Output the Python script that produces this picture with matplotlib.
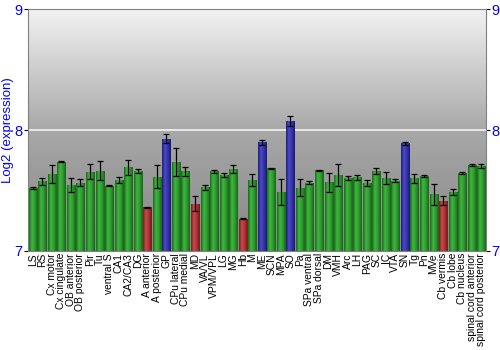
import numpy as np
import matplotlib
matplotlib.use('Agg')
import matplotlib.pyplot as plt
from matplotlib.colors import LinearSegmentedColormap

plt.rcParams['font.family'] = ['Liberation Sans', 'DejaVu Sans']

regions = ['LS', 'RS', 'Cx motor', 'Cx cingulate', 'OB anterior', 'OB posterior', 'Pir', 'Tu',
           'ventral S', 'CA1', 'CA2/CA3', 'DG', 'A anterior', 'A posterior', 'GP', 'CPu lateral',
           'CPu medial', 'MD', 'VA/VL', 'VPM/VPL', 'LG', 'MG', 'Hb', 'M', 'ME', 'SCN', 'MPA', 'SO',
           'Pa', 'SPa ventral', 'SPa dorsal', 'DM', 'VMH', 'Arc', 'LH', 'PAG', 'SC', 'IC', 'VTA',
           'SN', 'Tg', 'Pn', 'MVe', 'Cb vermis', 'Cb lobe', 'Cb nucleus', 'spinal cord anterior',
           'spinal cord posterior']
expr = [7.518, 7.576, 7.639, 7.736, 7.545, 7.565, 7.653, 7.664,
        7.540, 7.587, 7.694, 7.664, 7.361, 7.612, 7.926, 7.736,
        7.658, 7.391, 7.526, 7.658, 7.628, 7.678, 7.267, 7.587, 7.898, 7.683, 7.485, 8.074,
        7.523, 7.565, 7.669, 7.567, 7.625, 7.603, 7.609, 7.562, 7.661, 7.606, 7.581,
        7.890, 7.601, 7.617, 7.468, 7.416, 7.488, 7.642, 7.711,
        7.700]
err = [0.008, 0.028, 0.074, 0.004, 0.055, 0.028, 0.062, 0.081,
       0.006, 0.028, 0.062, 0.017, 0.003, 0.095, 0.037, 0.118,
       0.039, 0.062, 0.023, 0.014, 0.017, 0.033, 0.004, 0.05, 0.022, 0.005, 0.107, 0.04,
       0.069, 0.014, 0.004, 0.081, 0.092, 0.014, 0.022, 0.026, 0.022, 0.05, 0.014,
       0.014, 0.037, 0.008, 0.084, 0.04, 0.028, 0.008, 0.005,
       0.018]
# g = normal, r = low, b = high
group = ['g'] * 12 + ['r', 'g', 'b', 'g', 'g', 'r', 'g', 'g', 'g', 'g', 'r', 'g', 'b', 'g', 'g', 'b'] + \
        ['g'] * 11 + ['b', 'g', 'g', 'g', 'r', 'g', 'g', 'g', 'g']

shades = {
    'g': ['#1b6a1b', '#3fb63f', '#2e9a2e', '#1a621a'],
    'r': ['#7a1e1e', '#c84a4a', '#a83333', '#701a1a'],
    'b': ['#1e1e78', '#4a4ac8', '#3333a8', '#1a1a70'],
}

fig = plt.figure(figsize=(5, 3.5), dpi=100)
ax = fig.add_axes([0.056, 0.283, 0.916, 0.691])

ymin, ymax = 7, 9
n = len(regions)
x = np.arange(n)

# background gradient
bg = LinearSegmentedColormap.from_list('bg', ['#868686', '#a8a8a8', '#f2f2f2'])
ax.imshow(np.linspace(0, 1, 256).reshape(-1, 1), cmap=bg, aspect='auto',
          extent=(-0.5, n - 0.5, ymin, ymax), origin='lower', zorder=0)
ax.axhline(8, color='#f4f4f4', lw=1.2, zorder=1)

bars = ax.bar(x, np.array(expr) - ymin, bottom=ymin, width=0.84, color='none',
              edgecolor='none', zorder=2)
grad = np.linspace(0, 1, 64).reshape(1, -1)
for b, g in zip(bars, group):
    cm = LinearSegmentedColormap.from_list('c' + g, shades[g])
    x0, y0 = b.get_x(), b.get_y()
    im = ax.imshow(grad, cmap=cm, aspect='auto', zorder=2,
                   extent=(x0, x0 + b.get_width(), y0, y0 + b.get_height()))
    im.set_clip_path(b)

ax.errorbar(x, expr, yerr=err, fmt='none', ecolor='black', elinewidth=0.9,
            capsize=2, capthick=0.9, zorder=3)

ax.set_xlim(-0.5, n - 0.5)
ax.set_ylim(ymin, ymax)
ax.set_xticks(x)
ax.set_xticklabels(regions, rotation=90, fontsize=7.4)
ax.tick_params(axis='x', length=0, pad=1.5)
ax.set_yticks([7, 8, 9])
ax.tick_params(axis='y', colors='black', labelcolor='blue', labelsize=10.5, length=3,
               left=True, right=True, labelleft=True, labelright=True, pad=1)
for s in ax.spines.values():
    s.set_color('#808080')
ax.set_ylabel('Log2 (expression)', color='blue', fontsize=9.5)
ax.yaxis.set_label_coords(-0.03, 0.5)

fig.savefig('out.png', dpi=100)
